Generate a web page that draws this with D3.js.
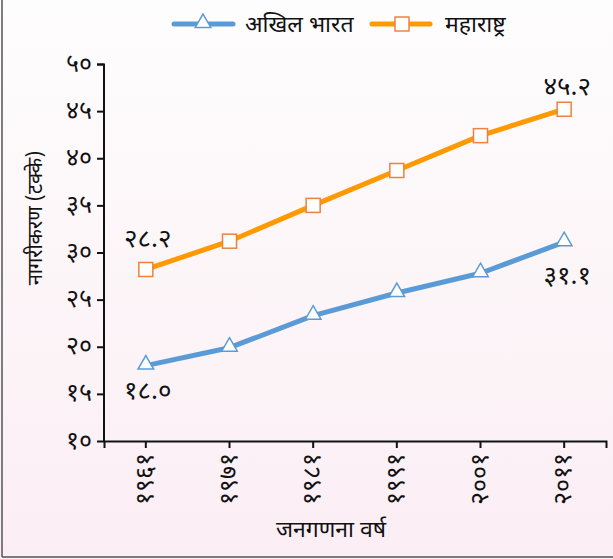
<!DOCTYPE html>
<html><head><meta charset="utf-8">
<script src="https://cdn.jsdelivr.net/npm/d3@7"></script>
<style>
html,body{margin:0;padding:0;}
svg{display:block;}
text{font-family:"Noto Sans Devanagari","Lohit Devanagari","Mangal","Noto Sans",sans-serif;fill:#111;}
</style></head>
<body>
<script>
const years = ["१९६१","१९७१","१९८१","१९९१","२००१","२०११"];
const allIndia = [18.0, 19.9, 23.3, 25.7, 27.8, 31.1];
const maharashtra = [28.2, 31.2, 35.0, 38.7, 42.4, 45.2];
const yTickValues = [10,15,20,25,30,35,40,45,50];
const yTickLabels = ["१०","१५","२०","२५","३०","३५","४०","४५","५०"];
const seriesNames = ["अखिल भारत","महाराष्ट्र"];
const yTitle = "नागरीकरण (टक्के)";
const xTitle = "जनगणना वर्ष";
const pointLabels = [
  {series:1, idx:0, text:"२८.२"},
  {series:0, idx:0, text:"१८.०"},
  {series:1, idx:5, text:"४५.२"},
  {series:0, idx:5, text:"३१.१"}
];

const W=613,H=559;
const svg=d3.select("body").append("svg").attr("width",W).attr("height",H);
const defs=svg.append("defs");
const g0=defs.append("linearGradient").attr("id","bg").attr("x1",0).attr("y1",0).attr("x2",0).attr("y2",1);
g0.append("stop").attr("offset","0").attr("stop-color","#fefdfd");
g0.append("stop").attr("offset","1").attr("stop-color","#fbeef4");
svg.append("rect").attr("width",W).attr("height",H).attr("fill","url(#bg)");
svg.append("line").attr("x1",2).attr("x2",2).attr("y1",0).attr("y2",557).attr("stroke","#555").attr("stroke-width",1.5);
svg.append("line").attr("x1",2).attr("x2",W).attr("y1",557).attr("y2",557).attr("stroke","#555").attr("stroke-width",1.5);

const x=d3.scaleBand().domain(years).range([104,606]);
const y=d3.scaleLinear().domain([10,50]).range([441,64]);
const cx=d=>x(d)+x.bandwidth()/2;

// axes
const yAxis=svg.append("g").attr("transform","translate(104,0)")
  .call(d3.axisLeft(y).tickValues(yTickValues).tickFormat((d,i)=>yTickLabels[i]).tickSize(7).tickSizeOuter(7));
yAxis.selectAll("path,line").attr("stroke","#111").attr("stroke-width",2);
yAxis.selectAll("text").attr("font-size",25).attr("x",-12).attr("dy","0.28em").style("fill","#111");
yAxis.select(".domain").attr("d","M-7,64.5H0V441");

const xAxis=svg.append("g").attr("transform","translate(0,441)")
  .call(d3.axisBottom(x).tickSize(7).tickSizeOuter(7));
xAxis.selectAll("path,line").attr("stroke","#111").attr("stroke-width",2);
xAxis.selectAll("text").attr("font-size",25)
  .attr("transform","rotate(-90)").attr("text-anchor","end")
  .attr("x",-12).attr("y",0).attr("dy","0.28em").style("fill","#111");

// titles
svg.append("text").attr("transform","translate(42,218) rotate(-90)").attr("text-anchor","middle")
  .attr("font-size",20).text(yTitle);
svg.append("text").attr("x",331).attr("y",537).attr("text-anchor","middle").attr("font-size",23).text(xTitle);

// series
const colors=["#5b9bd5","#ff9900"];
const mcolors=["#5b9bd5","#f08040"];
const data=[allIndia,maharashtra];
const line=d3.line().x((d,i)=>cx(years[i])).y(d=>y(d));
data.forEach((s,k)=>{
  svg.append("path").attr("d",line(s)).attr("fill","none").attr("stroke",colors[k]).attr("stroke-width",5).attr("stroke-linejoin","round");
});
const tri=d3.symbol().type(d3.symbolTriangle).size(105);
svg.append("g").selectAll("path").data(allIndia).join("path")
  .attr("d",tri).attr("transform",(d,i)=>`translate(${cx(years[i])},${y(d)-1})`)
  .attr("fill","#fff").attr("stroke",mcolors[0]).attr("stroke-width",1.5);
svg.append("g").selectAll("rect").data(maharashtra).join("rect")
  .attr("x",(d,i)=>cx(years[i])-7).attr("y",d=>y(d)-7).attr("width",14).attr("height",14)
  .attr("fill","#fff").attr("stroke",mcolors[1]).attr("stroke-width",1.5);

// point labels
const offs=[{dx:2,dy:-22},{dx:2,dy:33},{dx:3,dy:-14},{dx:3,dy:42}];
pointLabels.forEach((p,i)=>{
  const v=data[p.series][p.idx];
  svg.append("text").attr("x",cx(years[p.idx])+offs[i].dx).attr("y",y(v)+offs[i].dy)
    .attr("text-anchor","middle").attr("font-size",26).text(p.text);
});

// legend
const leg=svg.append("g");
leg.append("line").attr("x1",174).attr("x2",233).attr("y1",24).attr("y2",24).attr("stroke",colors[0]).attr("stroke-width",5).attr("stroke-linecap","round");
leg.append("path").attr("d",tri).attr("transform","translate(203,23)").attr("fill","#fff").attr("stroke",mcolors[0]).attr("stroke-width",1.5);
leg.append("text").attr("x",245).attr("y",32).attr("font-size",23).text(seriesNames[0]);
leg.append("line").attr("x1",372).attr("x2",430).attr("y1",24).attr("y2",24).attr("stroke",colors[1]).attr("stroke-width",5).attr("stroke-linecap","round");
leg.append("rect").attr("x",395).attr("y",17).attr("width",14).attr("height",14).attr("fill","#fff").attr("stroke",mcolors[1]).attr("stroke-width",1.5);
leg.append("text").attr("x",445).attr("y",32).attr("font-size",23).text(seriesNames[1]);
</script>
</body></html>
